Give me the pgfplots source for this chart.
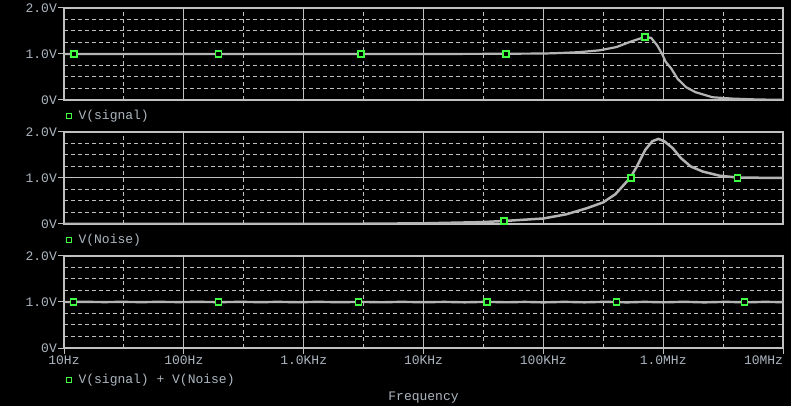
\documentclass[border=0pt]{standalone}
\usepackage{fontspec}
\setmonofont{Liberation Mono}
\usepackage{pgfplots}
\pgfplotsset{compat=1.18}
\definecolor{txt}{RGB}{172,182,192}
\definecolor{grd}{RGB}{192,192,192}
\definecolor{crv}{RGB}{180,180,180}
\definecolor{mk}{RGB}{64,255,64}
\newcommand\pf{\ttfamily\fontsize{13bp}{15bp}\selectfont}
\pgfplotsset{every axis/.append style={
  scale only axis, width=719bp,
  xmin=10, xmax=1e7, ymin=0, ymax=2,
  axis line style={grd, line width=1.2bp},
  xtick={10,100,1000,1e4,1e5,1e6,1e7},
  minor xtick={31.62,316.2,3162,31620,316200,3162000},
  ytick={0,1,2}, yticklabels={0V,1.0V,2.0V},
  minor ytick={0.25,0.5,0.75,1.25,1.5,1.75},
  xmajorgrids, ymajorgrids, xminorgrids, yminorgrids,
  major grid style={grd, line width=1bp, solid},
  minor grid style={grd, line width=1bp, dash pattern=on 4bp off 3bp},
  tick align=outside, major tick length=6bp, minor tick length=0pt,
  tick style={grd, line width=1bp},
  ytick pos=left, xtick pos=bottom,
  ticklabel style={font=\pf, text=txt},
  yticklabel style={inner sep=1bp},
  legend style={draw=none, fill=none, text=txt, font=\pf, anchor=west,
    inner sep=0pt, outer sep=0pt, xshift=2bp},
  legend image code/.code={\path[draw=none] (0bp,0bp) -- (10bp,0bp);
    \draw[mk, line width=1.2bp] (0bp,-2.5bp) rectangle (5bp,2.5bp);},
}}
\begin{document}
\begin{tikzpicture}
\useasboundingbox (0,0) rectangle (791bp,406bp);
\fill[black] (0,0) rectangle (791bp,406bp);
% Panel 1
\begin{semilogxaxis}[height=92bp, at={(64bp,306bp)}, anchor=south west,
  xticklabels={}, xtick style={draw=none},
  legend style={at={(axis description cs:0,-0.174)}}]
\addplot[crv, line width=2.2bp, no marks, forget plot] coordinates {
(10,1.0) (1e4,1.0) (3e4,1.003) (1e5,1.01) (1.35e5,1.02) (2e5,1.04) (2.95e5,1.08)
(4.07e5,1.15) (5.25e5,1.26) (6.3e5,1.33) (7.08e5,1.37) (7.94e5,1.35) (8.9e5,1.19)
(9.8e5,1.0) (1.05e6,0.83) (1.17e6,0.68) (1.32e6,0.46) (1.55e6,0.28) (1.86e6,0.17)
(2.57e6,0.06) (3.8e6,0.03) (6.3e6,0.01) (1e7,0.005)};
\addplot[only marks, mark=square*, mark size=3bp, mark options={draw=mk, fill=black, line width=1.5bp}]
 coordinates {(12.1,1.0) (195,1.0) (3020,1.0) (49000,1.0) (7.08e5,1.37)};
\addlegendentry{V(signal)}
\end{semilogxaxis}
% Panel 2
\begin{semilogxaxis}[height=92bp, at={(64bp,182bp)}, anchor=south west,
  xticklabels={}, xtick style={draw=none},
  legend style={at={(axis description cs:0,-0.174)}}]
\addplot[crv, line width=2.5bp, no marks, forget plot] coordinates {
(10,0.0) (1000,0.0) (3000,0.005) (1e4,0.015) (3e4,0.04) (4.68e4,0.065) (1e5,0.12)
(1.55e5,0.21) (2.29e5,0.34) (3.16e5,0.47) (4e5,0.65) (5.37e5,1.02) (6.03e5,1.25)
(7.08e5,1.61) (8.13e5,1.80) (9.12e5,1.85) (1.02e6,1.80) (1.2e6,1.65) (1.41e6,1.43)
(1.7e6,1.25) (2.14e6,1.14) (2.95e6,1.05) (4.17e6,1.01) (1e7,1.0)};
\addplot[only marks, mark=square*, mark size=3bp, mark options={draw=mk, fill=black, line width=1.5bp}]
 coordinates {(4.68e4,0.065) (5.37e5,1.0) (4.17e6,1.0)};
\addlegendentry{V(Noise)}
\end{semilogxaxis}
% Panel 3
\begin{semilogxaxis}[height=92bp, at={(64bp,58bp)}, anchor=south west,
  xticklabels={10Hz,100Hz,1.0KHz,10KHz,100KHz,1.0MHz,\makebox[0pt][r]{10MHz}},
  xticklabel style={inner sep=2bp},
  xlabel={Frequency},
  xlabel style={font=\pf, text=txt, at={(axis description cs:0.5,0)}, anchor=center, yshift=-50bp},
  legend style={at={(axis description cs:0,-0.348)}}]
\addplot[crv, line width=2.4bp, no marks, forget plot] coordinates {
(10,1.0) (15,1.003) (22,0.998) (30,1.003) (45,0.997) (60,1.003) (90,0.998) (130,1.003)
(200,0.997) (300,1.003) (450,0.996) (600,1.003) (900,0.995) (1300,1.003) (2000,0.996)
(3000,1.002) (4500,0.994) (6500,1.003) (1e4,0.995) (1.5e4,1.002) (2.2e4,0.993)
(3.3e4,1.003) (5e4,0.994) (7e4,1.002) (1e5,0.992) (1.5e5,1.003) (2.2e5,0.993)
(3.3e5,1.004) (5e5,0.992) (7e5,1.003) (1e6,0.993) (1.5e6,1.004) (2.2e6,0.992)
(3.3e6,1.003) (5e6,0.993) (7e6,1.003) (1e7,0.996)};
\addplot[only marks, mark=square*, mark size=3bp, mark options={draw=mk, fill=black, line width=1.5bp}]
 coordinates {(12,1.0) (195,1.0) (2880,1.0) (33900,1.0) (4.07e5,1.0) (4.79e6,1.0)};
\addlegendentry{V(signal) + V(Noise)}
\node[font=\pf, text=txt, anchor=east, inner sep=0pt] at (axis description cs:0,0.185) [xshift=-6bp] {SEL>{}>};
\end{semilogxaxis}
\end{tikzpicture}
\end{document}
